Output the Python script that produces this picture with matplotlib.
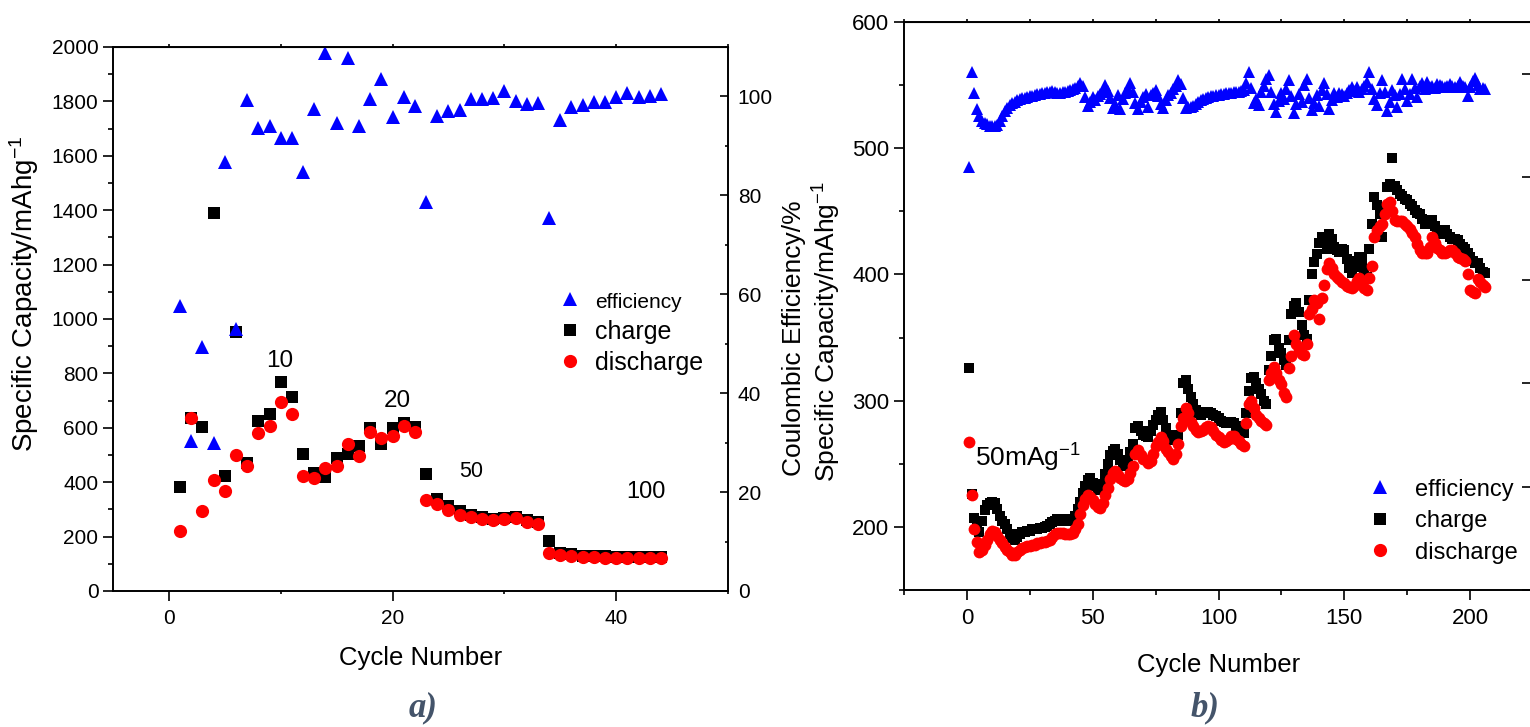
import numpy as np
import matplotlib
matplotlib.use("Agg")
import matplotlib.pyplot as plt
from matplotlib.ticker import MultipleLocator

plt.rcParams['font.family'] = ['Liberation Sans', 'DejaVu Sans']
plt.rcParams['mathtext.default'] = 'regular'

# (a) rate test, cycles 1-44
charge_a = [382, 636, 603, 1390, 423, 952, 470, 625, 651, 768,
            713, 504, 434, 419, 489, 504, 533, 599, 540, 599,
            618, 603, 430, 338, 313, 294, 279, 272, 265, 268,
            272, 262, 252, 184, 140, 135, 130, 128, 127, 125,
            124, 124, 124, 124]
discharge_a = [221, 636, 294, 408, 368, 500, 460, 581, 607, 695,
               651, 423, 415, 452, 460, 540, 496, 585, 563, 570,
               607, 585, 335, 320, 298, 279, 272, 265, 261, 265,
               268, 254, 246, 140, 132, 129, 125, 125, 121, 121,
               121, 121, 123, 123]
eff_a = [57.6, 30.3, 49.3, 29.9, 86.7, 52.9, 99.2, 93.7, 94.1, 91.5,
         91.5, 84.8, 97.4, 108.7, 94.7, 107.7, 94.1, 99.4, 103.6, 95.8,
         99.8, 98.0, 78.6, 96.0, 97.0, 97.2, 99.4, 99.4, 99.6, 101.2,
         99.0, 98.4, 98.6, 75.4, 95.2, 97.8, 98.2, 98.8, 98.8, 99.8,
         100.6, 99.8, 100.0, 100.4]
rate_labels = ["10", "20", "50", "100"]

# (b) long cycling at 50 mA/g, cycles 1-206
charge_b = [326, 226, 207, 200, 196, 205, 213, 217, 219, 220,
            219, 214, 209, 205, 202, 198, 194, 191, 190, 192,
            194, 196, 196, 197, 197, 198, 198, 198, 199, 199,
            200, 201, 202, 204, 205, 206, 206, 206, 205, 205,
            205, 206, 209, 214, 220, 227, 232, 237, 239, 235,
            232, 230, 229, 234, 242, 250, 257, 260, 262, 258,
            253, 250, 248, 252, 259, 266, 278, 280, 276, 273,
            272, 271, 276, 281, 285, 289, 291, 285, 278, 273,
            270, 269, 271, 273, 290, 314, 316, 309, 303, 297,
            293, 290, 289, 290, 291, 291, 290, 289, 288, 286,
            284, 283, 282, 283, 283, 282, 280, 279, 277, 274,
            290, 308, 318, 319, 314, 309, 305, 300, 297, 324,
            335, 348, 349, 342, 338, 332, 328, 348, 369, 375,
            377, 370, 360, 352, 349, 380, 400, 410, 416, 425,
            430, 425, 420, 432, 428, 422, 419, 418, 420, 419,
            412, 405, 401, 406, 411, 414, 412, 404, 398, 420,
            440, 461, 455, 448, 430, 450, 469, 472, 492, 470,
            467, 464, 462, 460, 459, 456, 454, 451, 449, 448,
            444, 440, 441, 443, 443, 438, 434, 432, 434, 435,
            432, 430, 428, 428, 427, 424, 422, 420, 417, 414,
            411, 409, 409, 405, 402, 401]
discharge_b = [267, 225, 198, 188, 180, 182, 186, 190, 194, 197,
               196, 193, 190, 187, 184, 182, 180, 178, 178, 180,
               182, 183, 184, 185, 185, 186, 186, 187, 187, 188,
               188, 189, 190, 192, 194, 195, 195, 195, 194, 194,
               194, 195, 198, 202, 210, 217, 222, 225, 224, 221,
               218, 216, 215, 219, 225, 231, 238, 243, 244, 241,
               239, 237, 236, 238, 243, 248, 258, 261, 257, 254,
               253, 251, 252, 258, 264, 267, 271, 268, 262, 259,
               256, 254, 258, 266, 280, 286, 294, 290, 283, 280,
               277, 275, 276, 277, 279, 280, 279, 276, 273, 271,
               269, 267, 268, 270, 272, 272, 270, 268, 266, 264,
               282, 297, 300, 294, 289, 286, 284, 282, 281, 316,
               322, 327, 322, 316, 313, 306, 303, 326, 335, 352,
               345, 340, 337, 336, 345, 369, 373, 380, 377, 365,
               381, 392, 404, 409, 405, 400, 398, 396, 394, 393,
               391, 390, 389, 391, 395, 397, 393, 389, 388, 397,
               407, 430, 435, 438, 440, 448, 456, 457, 450, 443,
               442, 442, 442, 440, 438, 436, 433, 430, 424, 419,
               417, 417, 417, 422, 430, 425, 421, 419, 417, 417,
               418, 419, 419, 417, 414, 413, 412, 411, 400, 388,
               386, 385, 396, 394, 392, 390]
eff_b = [82.0, 100.4, 96.2, 93.1, 91.7, 90.8, 90.5, 90.2, 89.9, 89.8,
         89.9, 90.0, 90.8, 91.8, 92.8, 93.4, 93.9, 94.3, 94.6, 94.8,
         95.0, 95.2, 95.3, 95.5, 95.6, 95.7, 95.9, 96.0, 96.1, 96.2,
         96.3, 96.4, 96.5, 96.6, 96.4, 96.3, 96.3, 96.4, 96.5, 96.7,
         96.9, 97.1, 97.3, 97.6, 98.2, 97.6, 95.5, 93.8, 94.5, 95.4,
         94.8, 95.6, 96.0, 96.4, 97.8, 96.7, 95.2, 93.4, 94.2, 95.8,
         93.2, 95.1, 96.2, 97.0, 98.1, 96.5, 94.3, 93.2, 94.6, 95.4,
         96.1, 93.5, 95.8, 96.3, 96.8, 95.6, 94.2, 93.4, 94.9, 95.9,
         96.3, 97.0, 97.6, 98.8, 97.9, 95.2, 93.3, 93.6, 93.5, 93.8,
         94.2, 94.6, 94.9, 95.1, 95.3, 95.4, 95.6, 95.7, 95.8, 95.9,
         96.0, 96.1, 96.2, 96.3, 96.3, 96.4, 96.4, 96.5, 96.6, 96.8,
         98.2, 100.4, 97.2, 94.3, 95.1, 94.0, 96.4, 97.6, 99.0, 99.7,
         96.5, 94.1, 92.6, 94.7, 96.3, 95.0, 97.1, 98.8, 95.6, 92.4,
         94.2, 96.1, 94.6, 97.8, 99.0, 95.2, 93.0, 94.4, 95.9, 93.8,
         96.8, 98.2, 96.0, 93.1, 94.8, 96.2, 95.4, 96.2, 96.0, 95.7,
         96.3, 96.8, 97.4, 96.6, 97.5, 96.4, 97.0, 97.6, 98.4, 100.4,
         97.1, 95.1, 93.9, 96.3, 98.8, 96.4, 92.7, 94.6, 96.8, 95.8,
         93.5, 96.0, 98.9, 97.0, 94.7, 96.1, 98.9, 97.2, 95.5, 97.6,
         98.1, 97.0, 98.4, 97.5, 97.6, 97.3, 98.0, 97.8, 97.6, 97.4,
         97.6, 97.9, 97.6, 97.4, 97.6, 98.3, 97.7, 97.5, 95.6, 97.4,
         98.6, 99.2, 97.8, 97.1, 97.3, 97.0]

cyc_a = np.arange(1, len(charge_a) + 1)
cyc_b = np.arange(1, len(charge_b) + 1)

fig = plt.figure(figsize=(15.3, 7.27), dpi=100)
ax_a = fig.add_axes([113 / 1530, 1 - 591 / 727, 615 / 1530, 544 / 727])
ax_b = fig.add_axes([904 / 1530, 1 - 590 / 727, 629 / 1530, 568 / 727])
ef_a = ax_a.twinx()
ef_b = ax_b.twinx()

for ax in (ax_a, ax_b, ef_a, ef_b):
    for s in ax.spines.values():
        s.set_linewidth(1.2)

# ---- panel a ----
h_ch, = ax_a.plot(cyc_a, charge_a, ls='none', marker='s', ms=8, color='black', mew=0, label='charge')
h_dis, = ax_a.plot(cyc_a, discharge_a, ls='none', marker='o', ms=9.5, color='#ff0000', mew=0, label='discharge')
h_eff, = ef_a.plot(cyc_a, eff_a, ls='none', marker='^', ms=10.5, color='#0000ff', mew=0, label='efficiency')

ax_a.set_xlim(-5, 50)
ax_a.set_ylim(0, 2000)
ef_a.set_ylim(0, 110)
ax_a.xaxis.set_major_locator(MultipleLocator(20))
ax_a.xaxis.set_minor_locator(MultipleLocator(10))
ax_a.yaxis.set_major_locator(MultipleLocator(200))
ax_a.yaxis.set_minor_locator(MultipleLocator(100))
ef_a.yaxis.set_major_locator(MultipleLocator(20))
ef_a.yaxis.set_minor_locator(MultipleLocator(10))
ax_a.tick_params(axis='both', which='major', direction='out', length=7, width=1.2, labelsize=15)
ax_a.tick_params(axis='x', which='major', pad=6)
ax_a.tick_params(axis='x', which='minor', direction='out', length=2.5, width=1.2)
ax_a.tick_params(axis='y', which='minor', direction='out', length=3.5, width=1.2)
ef_a.tick_params(axis='y', which='major', direction='in', length=5.5, width=1.2, labelsize=15, pad=7)
ef_a.tick_params(axis='y', which='minor', direction='in', length=2.5, width=1.2)
top_a = ax_a.secondary_xaxis('top')
top_a.set_xticks(np.arange(0, 51, 10))
top_a.tick_params(direction='out', length=2.5, width=1.2, labeltop=False)

ax_a.set_ylabel('Specific Capacity/mAhg$^{-1}$', fontsize=20, ha='center', va='center')
ax_a.yaxis.set_label_coords(-0.1447, 0.546)
ef_a.set_ylabel('Coulombic Efficiency/%', fontsize=19, rotation=90, ha='center', va='center')
ef_a.yaxis.set_label_coords(1.1073, 0.4651)
ax_a.set_xlabel('Cycle Number', fontsize=18.5, ha='center', va='center')
ax_a.xaxis.set_label_coords(0.5, -0.123)

# current density of each block
ax_a.text(9.9, 846, rate_labels[0], fontsize=17.5, ha='center', va='center')
ax_a.text(20.4, 699, rate_labels[1], fontsize=17.5, ha='center', va='center')
ax_a.text(27.0, 441, rate_labels[2], fontsize=15.5, ha='center', va='center')
ax_a.text(42.7, 364, rate_labels[3], fontsize=17, ha='center', va='center')

leg_a = ef_a.legend([h_eff, h_ch, h_dis], ['efficiency', 'charge', 'discharge'],
                    loc='upper left', bbox_to_anchor=(0.7228, 0.552), frameon=False,
                    fontsize=18, handlelength=1.0, handletextpad=0.5, labelspacing=0.3,
                    borderpad=0, borderaxespad=0)
leg_a.get_texts()[0].set_fontsize(15)

# ---- panel b ----
ax_b.plot(cyc_b, charge_b, ls='none', marker='s', ms=7.5, color='black', mew=0)
ax_b.plot(cyc_b, discharge_b, ls='none', marker='o', ms=8.5, color='#ff0000', mew=0)
ef_b.plot(cyc_b, eff_b, ls='none', marker='^', ms=8, color='#0000ff', mew=0)

ax_b.set_xlim(-25, 225)
ax_b.set_ylim(150, 600)
ef_b.set_ylim(0, 110)
ax_b.xaxis.set_major_locator(MultipleLocator(50))
ax_b.xaxis.set_minor_locator(MultipleLocator(25))
ax_b.yaxis.set_major_locator(MultipleLocator(100))
ax_b.yaxis.set_minor_locator(MultipleLocator(50))
ax_b.tick_params(axis='both', which='major', direction='out', length=7, width=1.2, labelsize=16)
ax_b.tick_params(axis='x', which='major', pad=6)
ax_b.tick_params(axis='both', which='minor', direction='out', length=3.5, width=1.2)
ef_b.tick_params(axis='y', which='major', direction='in', length=8, width=1.2, labelright=False)
ef_b.tick_params(axis='y', which='minor', direction='in', length=4.5, width=1.2)
top_b = ax_b.secondary_xaxis('top')
top_b.set_xticks(np.arange(-25, 226, 25))
top_b.tick_params(direction='out', length=2.5, width=1.2, labeltop=False)

ax_b.set_ylabel('Specific Capacity/mAhg$^{-1}$', fontsize=19, ha='center', va='center')
ax_b.yaxis.set_label_coords(-0.1224, 0.4542)
ax_b.set_xlabel('Cycle Number', fontsize=18.5, ha='center', va='center')
ax_b.xaxis.set_label_coords(0.5008, -0.132)

ax_b.text(3.2, 254.6, '50mAg$^{-1}$', fontsize=19, ha='left', va='center')

leg_b = ef_b.legend([h_eff, h_ch, h_dis], ['efficiency', 'charge', 'discharge'],
                    loc='upper left', bbox_to_anchor=(0.7377, 0.196), frameon=False,
                    fontsize=17, handlelength=1.0, handletextpad=1.0, labelspacing=0.4,
                    borderpad=0, borderaxespad=0, markerscale=1.0)

# panel tags
tag_style = dict(fontsize=25, fontweight='bold', fontstyle='italic', color='#44546a',
                 family=['Liberation Serif', 'DejaVu Serif'], ha='center', va='center')
fig.text(423 / 1530, 1 - 708 / 727, 'a)', **tag_style)
fig.text(1205 / 1530, 1 - 708 / 727, 'b)', **tag_style)

fig.savefig('out.png', dpi=100, facecolor='white')
